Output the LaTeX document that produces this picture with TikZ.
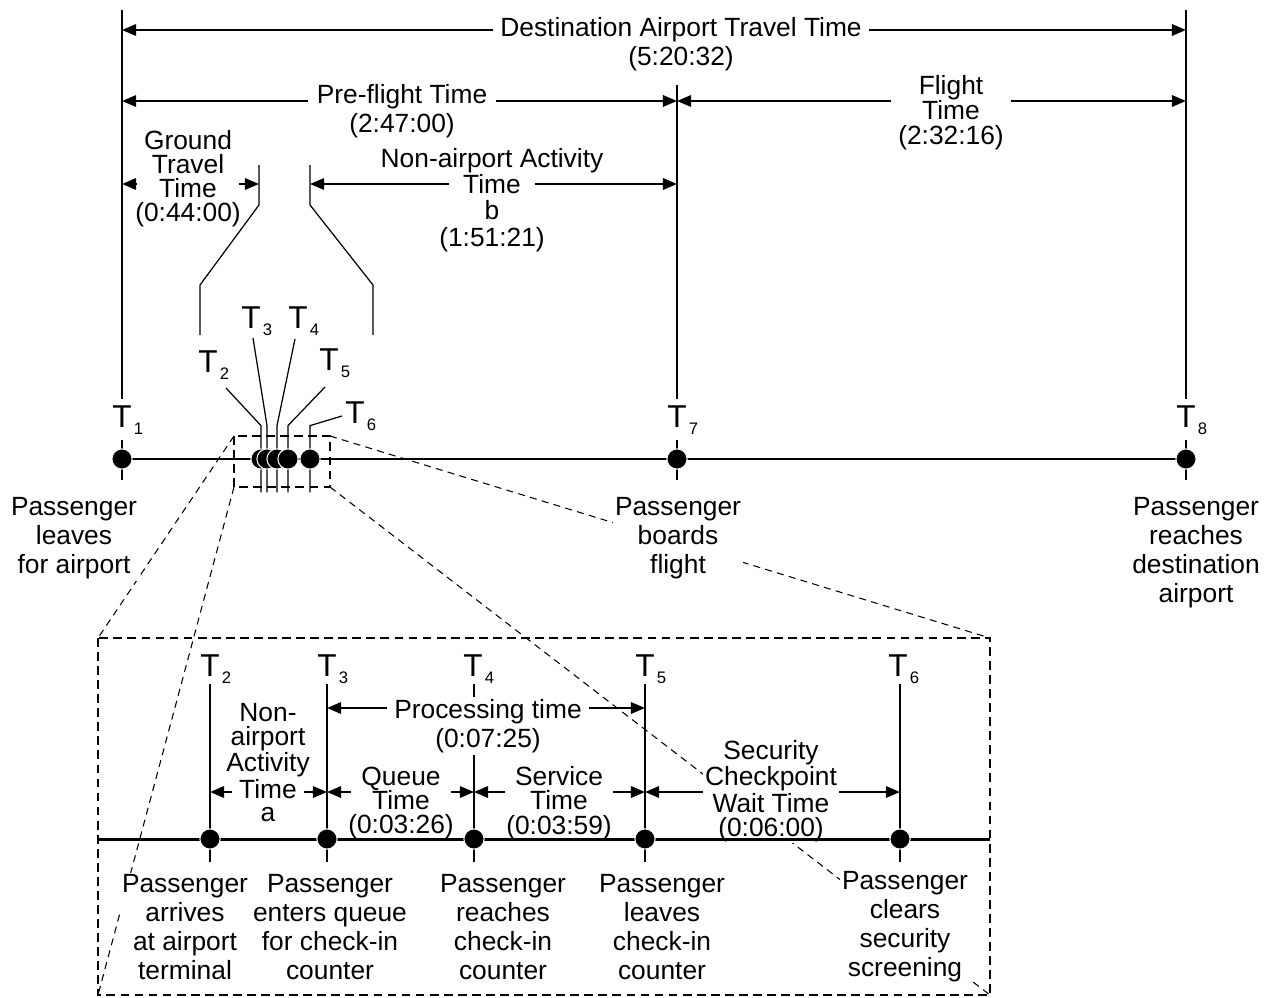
\documentclass[tikz,border=0pt]{standalone}
\usepackage{fontspec}
\setmainfont{Liberation Sans}
\usetikzlibrary{arrows.meta}

\newcommand{\tlab}[1]{{\fontsize{18}{18}\selectfont T}\rlap{\kern1.2pt\raisebox{-4.5pt}{\fontsize{9.5}{9.5}\selectfont #1}}}
\newcommand{\nw}[1]{\makebox[0pt]{#1}}

\begin{document}
\begin{tikzpicture}[x=0.02cm,y=-0.02cm,>={Triangle[length=8pt,width=6.5pt]},
    dot/.style={circle,fill=black,draw=white,line width=0.6pt,inner sep=0pt,minimum size=11.5pt},
    tick/.style={line width=0.7pt},
    meas/.style={line width=1.1pt,<->},
    axis/.style={line width=1.7pt},
    zoombox/.style={line width=1.1pt,dash pattern=on 5pt off 3pt},
    zoomline/.style={line width=0.6pt,dash pattern=on 4pt off 3pt},
    txt/.style={align=center,fill=white,inner sep=1pt,font=\fontsize{15}{16.5}\selectfont},
    tight/.style={align=center,fill=white,inner sep=1pt,font=\fontsize{15}{#1}\selectfont},
    tight/.default=14,
    pad/.style={inner xsep=#1},
    tl/.style={anchor=base,inner sep=0pt}]
    \useasboundingbox (0,0) rectangle (1270,997);

    \coordinate (t1) at (122,459);
    \coordinate (t7) at (677,459);
    \coordinate (t8) at (1186,459);

    \coordinate (c2) at (261,459);
    \coordinate (c3) at (267,459);
    \coordinate (c4) at (277,459);
    \coordinate (c5) at (288,459);
    \coordinate (c6) at (310,459);

    \coordinate (b2) at (210,839);
    \coordinate (b3) at (327,839);
    \coordinate (b4) at (474,839);
    \coordinate (b5) at (645,839);
    \coordinate (b6) at (900,839);

    \coordinate (s1) at (234,436);
    \coordinate (s2) at (330,487);
    \coordinate (z1) at (98,638);
    \coordinate (z2) at (990,995);

    \draw[zoomline] (s1) -- (z1);
    \draw[zoomline] (s1 |- s2) -- (z1 |- z2);
    \draw[zoomline] (s2 |- s1) -- (z2 |- z1);
    \draw[zoomline] (s2) -- (z2);

    \coordinate (v1) at (122,10);
    \coordinate (v7) at (677,85);
    \coordinate (v8) at (1186,10);
    \draw[tick] (v1) -- ([yshift=34pt]t1);
    \draw[tick] (v7) -- ([yshift=34pt]t7);
    \draw[tick] (v8) -- ([yshift=34pt]t8);
    \draw[tick] ([yshift=11pt]t1) -- ([yshift=-12pt]t1);
    \draw[tick] ([yshift=11pt]t7) -- ([yshift=-12pt]t7);
    \draw[tick] ([yshift=11pt]t8) -- ([yshift=-12pt]t8);

    \draw[tick] (259,165) -- (259,205) -- (200,285) -- (200,335);
    \draw[tick] (310,165) -- (310,205) -- (373,285) -- (373,335);

    \draw[meas] (122,30) -- (1186,30);
    \draw[meas] (122,101) -- (677,101);
    \draw[meas] (677,101) -- (1186,101);
    \draw[meas] (122,184) -- (259,184);
    \draw[meas] (310,184) -- (677,184);

    \coordinate (l2) at (226,388);
    \coordinate (l3) at (253,338);
    \coordinate (l4) at (295,339);
    \coordinate (l5) at (325,387);
    \coordinate (l6) at (342,416);
    \draw[tick] (l2) -- ([yshift=19pt]c2) -- ([yshift=-19pt]c2);
    \draw[tick] (l3) -- ([yshift=19pt]c3) -- ([yshift=-19pt]c3);
    \draw[tick] (l4) -- ([yshift=19pt]c4) -- ([yshift=-19pt]c4);
    \draw[tick] (l5) -- ([yshift=19pt]c5) -- ([yshift=-19pt]c5);
    \draw[tick] (l6) -- ([yshift=19pt]c6) -- ([yshift=-19pt]c6);

    \draw[tick] ([yshift=88pt]b2) -- ([yshift=-13pt]b2);
    \draw[tick] ([yshift=88pt]b3) -- ([yshift=-13pt]b3);
    \draw[tick] ([yshift=88pt]b4) -- ([yshift=-13pt]b4);
    \draw[tick] ([yshift=88pt]b5) -- ([yshift=-13pt]b5);
    \draw[tick] ([yshift=88pt]b6) -- ([yshift=-13pt]b6);

    \draw[meas] (327,708) -- (645,708);
    \draw[meas] (210,792) -- (327,792);
    \draw[meas] (327,792) -- (474,792);
    \draw[meas] (474,792) -- (645,792);
    \draw[meas] (645,792) -- (900,792);

    \node[txt,pad=4pt] (dest) at (681,44) {Destination Airport Travel Time\\(5:20:32)};
    \node[txt,pad=5pt] (pre) at (402,111) {Pre-flight Time\\(2:47:00)};
    \node[tight=14.2,pad=4pt] (flt) at (951,113) {Flight\\Time\\(2:32:16)};
    \node[tight=13.6,pad=4pt] (gnd) at (188,179) {Ground\\Travel\\Time\\\nw{(0:44:00)}};
    \node[tight=15,pad=8pt] (nab) at (492,200) {\nw{Non-airport Activity}\\Time\\\nw{b}\\\nw{(1:51:21)}};

    \node[txt] (ev1) at (74,538) {Passenger\\leaves\\for airport};
    \node[txt] (ev7) at (678,538) {Passenger\\boards\\flight};
    \node[txt] (ev8) at (1196,553) {Passenger\\reaches\\destination\\airport};

    \node[txt,pad=4pt] (proc) at (488,726) {Processing time\\(0:07:25)};
    \node[tight=13.5,pad=4pt] (naa) at (268,763) {\nw{Non-}\\\nw{airport}\\\nw{Activity}\\Time\\\nw{a}};
    \node[tight=13.8,pad=6pt] (que) at (401,803) {Queue\\Time\\\nw{(0:03:26)}};
    \node[tight=13.8,pad=6pt] (srv) at (559,803) {Service\\Time\\\nw{(0:03:59)}};
    \node[tight=13.5] (sec) at (771,791) {Security\\Checkpoint\\Wait Time\\(0:06:00)};

    \node[txt] (ev2) at (185,927) {Passenger\\arrives\\at airport\\terminal};
    \node[txt] (ev3) at (330,927) {Passenger\\enters queue\\for check-in\\counter};
    \node[txt] (ev4) at (503,927) {Passenger\\reaches\\check-in\\counter};
    \node[txt] (ev5) at (662,927) {Passenger\\leaves\\check-in\\counter};
    \node[txt] (ev6) at (905,927) {Passenger\\clears\\security\\screening};

    \draw[zoombox] (s1) rectangle (s2);
    \draw[zoombox] (z1) rectangle (z2);

    \draw[axis] (t1) -- (t8);
    \draw[axis] (z1 |- b2) -- (z2 |- b6);

    \node[dot] (d1) at (t1) {};
    \node[dot] (d7) at (t7) {};
    \node[dot] (d8) at (t8) {};
    \node[dot] (d2) at (c2) {};
    \node[dot] (d3) at (c3) {};
    \node[dot] (d4) at (c4) {};
    \node[dot] (d5) at (c5) {};
    \node[dot] (d6) at (c6) {};
    \node[dot] (e2) at (b2) {};
    \node[dot] (e3) at (b3) {};
    \node[dot] (e4) at (b4) {};
    \node[dot] (e5) at (b5) {};
    \node[dot] (e6) at (b6) {};

    \node[tl] (lt1) at (122,427) {\tlab{1}};
    \node[tl] (lt7) at (677,427) {\tlab{7}};
    \node[tl] (lt8) at (1186,427) {\tlab{8}};
    \node[tl] (lc2) at (208,372) {\tlab{2}};
    \node[tl] (lc3) at (251,328) {\tlab{3}};
    \node[tl] (lc4) at (298,328) {\tlab{4}};
    \node[tl] (lc5) at (329,370) {\tlab{5}};
    \node[tl] (lc6) at (355,423) {\tlab{6}};
    \node[tl] (lb2) at (210,676) {\tlab{2}};
    \node[tl] (lb3) at (327,676) {\tlab{3}};
    \node[tl] (lb4) at (473,676) {\tlab{4}};
    \node[tl] (lb5) at (645,676) {\tlab{5}};
    \node[tl] (lb6) at (898,676) {\tlab{6}};
\end{tikzpicture}
\end{document}
